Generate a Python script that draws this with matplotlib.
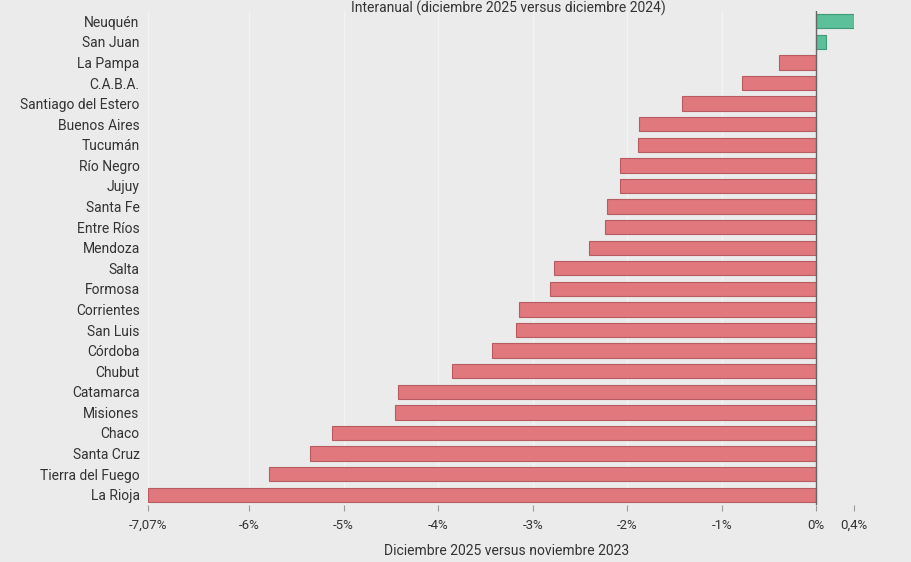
import matplotlib
matplotlib.use("Agg")
import matplotlib.pyplot as plt

provincias = ["Neuquén", "San Juan", "La Pampa", "C.A.B.A.", "Santiago del Estero",
              "Buenos Aires", "Tucumán", "Río Negro", "Jujuy", "Santa Fe", "Entre Ríos",
              "Mendoza", "Salta", "Formosa", "Corrientes", "San Luis", "Córdoba", "Chubut",
              "Catamarca", "Misiones", "Chaco", "Santa Cruz", "Tierra del Fuego", "La Rioja"]
valores = [0.4, 0.1, -0.39, -0.78, -1.42, -1.88, -1.89, -2.08, -2.08, -2.21, -2.23,
           -2.40, -2.77, -2.82, -3.14, -3.18, -3.43, -3.85, -4.43, -4.46, -5.12, -5.36,
           -5.79, -7.07]
ticks = [-7.07, -6, -5, -4, -3, -2, -1, 0, 0.4]
tick_labels = ["-7,07%", "-6%", "-5%", "-4%", "-3%", "-2%", "-1%", "0%", "0,4%"]

plt.rcParams['font.family'] = ['Roboto', 'DejaVu Sans']
bg = "#ebebeb"
fig = plt.figure(figsize=(9.12, 5.62), dpi=100, facecolor=bg)
ax = fig.add_axes([148/912, 1-505/562, (854-148)/912, (505-11)/562], facecolor=bg)

ypos = list(range(len(provincias)))
colors = ["#5cc09a" if v > 0 else "#e0787e" for v in valores]
edges = ["#3f9a78" if v > 0 else "#b85c62" for v in valores]
ax.barh(ypos, valores, height=0.7, color=colors, edgecolor=edges, linewidth=0.8, zorder=3)
ax.set_ylim(len(provincias) - 0.5, -0.5)
ax.set_xlim(-7.07, 0.4)
ax.set_yticks(ypos)
ax.set_yticklabels(provincias, fontsize=10, color="#333333")
ax.set_xticks(ticks)
ax.set_xticklabels(tick_labels, fontsize=9.5, color="#333333")
ax.tick_params(axis="y", length=0, pad=6)
ax.tick_params(axis="x", length=4, color="#999999", pad=6)
for t in ticks:
    ax.axvline(t, color="#f3f3f3", linewidth=1, zorder=1)
ax.axvline(0, color="#666666", linewidth=1, zorder=4)
for s in ax.spines.values():
    s.set_visible(False)

fig.text(0.557, 1 - 8/562, "Interanual (diciembre 2025 versus diciembre 2024)", ha="center",
         va="center", fontsize=10, color="#333333")
fig.text(0.555, 1 - 551/562, "Diciembre 2025 versus noviembre 2023", ha="center",
         va="center", fontsize=10, color="#333333")
fig.savefig("out.png", dpi=100, facecolor=bg)
